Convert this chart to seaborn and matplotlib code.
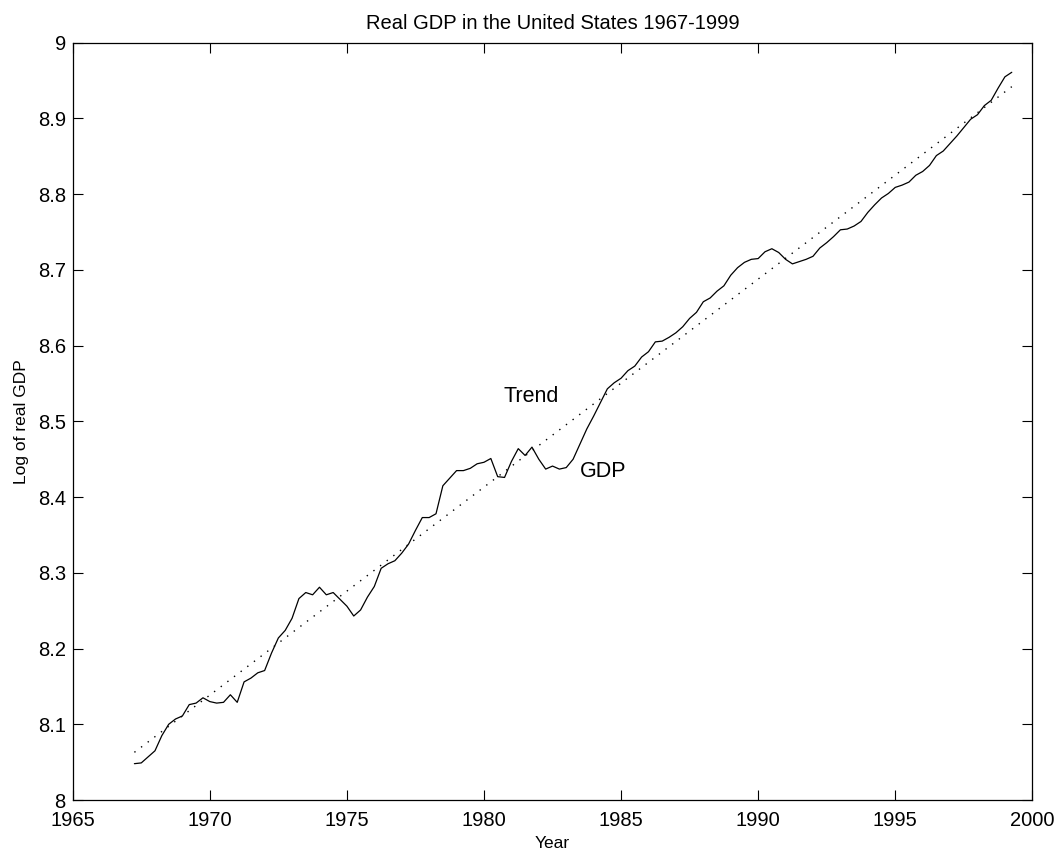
import numpy as np
import matplotlib
matplotlib.use('Agg')
from matplotlib import pyplot as plt
import seaborn as sns

# log of real GDP, quarterly
log_gdp = [
    8.048, 8.049, 8.057, 8.065, 8.085, 8.100, 8.107, 8.111,   # 1967.25 - 1969.00
    8.126, 8.128, 8.135, 8.130, 8.128, 8.129, 8.139, 8.129,   # 1969.25 - 1971.00
    8.156, 8.161, 8.168, 8.171, 8.194, 8.214, 8.224, 8.240,   # 1971.25 - 1973.00
    8.266, 8.274, 8.271, 8.281, 8.271, 8.274, 8.265, 8.256,   # 1973.25 - 1975.00
    8.243, 8.251, 8.268, 8.282, 8.306, 8.312, 8.316, 8.326,   # 1975.25 - 1977.00
    8.338, 8.356, 8.373, 8.373, 8.378, 8.415, 8.425, 8.435,   # 1977.25 - 1979.00
    8.435, 8.438, 8.444, 8.446, 8.451, 8.427, 8.426, 8.447,   # 1979.25 - 1981.00
    8.464, 8.455, 8.466, 8.450, 8.437, 8.441, 8.437, 8.439,   # 1981.25 - 1983.00
    8.450, 8.470, 8.490, 8.507, 8.525, 8.543, 8.551, 8.557,   # 1983.25 - 1985.00
    8.567, 8.573, 8.585, 8.592, 8.605, 8.606, 8.611, 8.617,   # 1985.25 - 1987.00
    8.625, 8.636, 8.644, 8.658, 8.663, 8.672, 8.679, 8.693,   # 1987.25 - 1989.00
    8.703, 8.710, 8.714, 8.715, 8.724, 8.728, 8.723, 8.714,   # 1989.25 - 1991.00
    8.708, 8.711, 8.714, 8.718, 8.729, 8.736, 8.744, 8.753,   # 1991.25 - 1993.00
    8.754, 8.758, 8.764, 8.776, 8.786, 8.795, 8.801, 8.809,   # 1993.25 - 1995.00
    8.812, 8.816, 8.825, 8.830, 8.838, 8.851, 8.857, 8.867,   # 1995.25 - 1997.00
    8.877, 8.888, 8.899, 8.905, 8.917, 8.924, 8.940, 8.955,   # 1997.25 - 1999.00
    8.961,                                                    # 1999.25
]
years = 1967.25 + 0.25 * np.arange(len(log_gdp))

# linear trend, end points
trend_years = [1967.25, 1999.25]
trend = [8.063, 8.942]

xticks = [1965, 1970, 1975, 1980, 1985, 1990, 1995, 2000]
yticks = [8, 8.1, 8.2, 8.3, 8.4, 8.5, 8.6, 8.7, 8.8, 8.9, 9]
ytick_labels = ['8', '8.1', '8.2', '8.3', '8.4', '8.5', '8.6', '8.7', '8.8', '8.9', '9']

sns.set_style('ticks')
plt.rcParams['font.family'] = ['Liberation Sans', 'DejaVu Sans']
plt.rcParams['text.color'] = 'black'
plt.rcParams['axes.labelcolor'] = 'black'
plt.rcParams['xtick.color'] = 'black'
plt.rcParams['ytick.color'] = 'black'

fig = plt.figure(figsize=(10.6, 8.55), dpi=100)
ax = fig.add_axes([0.0686, 0.0643, 0.9053, 0.8857])

sns.lineplot(x=years, y=log_gdp, ax=ax, color='black', linewidth=0.9)
sns.lineplot(x=trend_years, y=trend, ax=ax, color='black', linewidth=1.0,
             linestyle=(0, (1, 5)))

ax.text(1980.7, 8.533, 'Trend', fontsize=15.5, va='center', ha='left')
ax.text(1983.5, 8.434, 'GDP', fontsize=15.5, va='center', ha='left')

ax.set_xlim(1965, 2000)
ax.set_ylim(8, 9)
ax.set_xticks(xticks)
ax.set_yticks(yticks)
ax.set_yticklabels(ytick_labels)
ax.tick_params(direction='in', length=7, width=0.8, labelsize=14.5,
               top=True, right=True, colors='black')
ax.tick_params(axis='x', pad=8)
ax.tick_params(axis='y', pad=5)
for s in ax.spines.values():
    s.set_visible(True)
    s.set_linewidth(0.9)
    s.set_color('black')

ax.set_title('Real GDP in the United States 1967-1999', fontsize=14.5, pad=10,
             color='black')
ax.set_xlabel('Year', fontsize=12.5, labelpad=4)
ax.set_ylabel('Log of real GDP', fontsize=12.5, labelpad=6)

fig.savefig('out.png', dpi=100)
